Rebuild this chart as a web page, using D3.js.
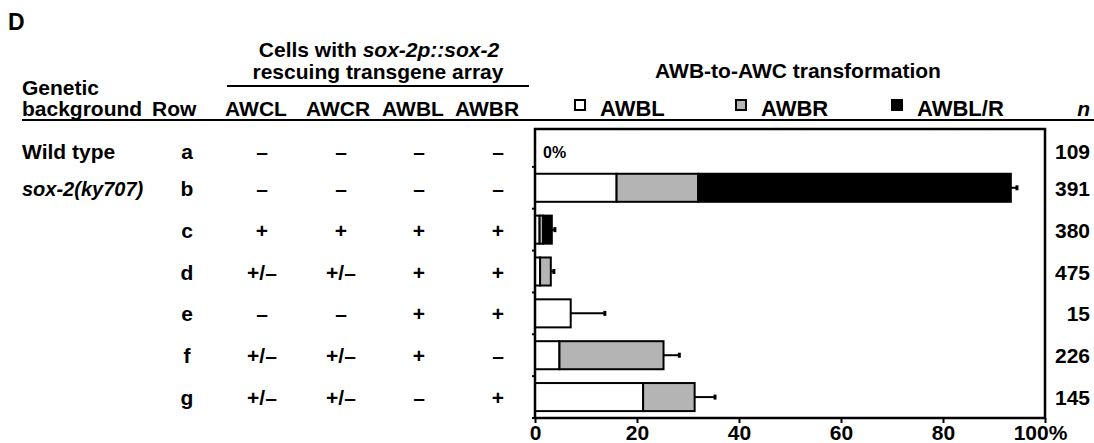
<!DOCTYPE html>
<html>
<head>
<meta charset="utf-8">
<script src="https://cdn.jsdelivr.net/npm/d3@7"></script>
<style>
  body { margin: 0; background: #fff; }
  svg text { font-family: "Liberation Sans", Arial, Helvetica, sans-serif; font-weight: bold; fill: #000; font-size: 21px; }
</style>
</head>
<body>
<svg width="1094" height="443"></svg>
<script>
// data
const rows = ["a", "b", "c", "d", "e", "f", "g"];
const backgrounds = ["Wild type", "sox-2(ky707)", "", "", "", "", ""];
const cellNames = ["AWCL", "AWCR", "AWBL", "AWBR"];
const rescueAWCL = ["–", "–", "+", "+/–", "–", "+/–", "+/–"];
const rescueAWCR = ["–", "–", "+", "+/–", "–", "+/–", "+/–"];
const rescueAWBL = ["–", "–", "+", "+", "+", "+", "–"];
const rescueAWBR = ["–", "–", "+", "+", "+", "–", "+"];
const keys = ["AWBL", "AWBR", "AWBL/R"];
const awbl = [0, 16, 0.9, 1.0, 7.0, 4.8, 21.2];
const awbr = [0, 16, 0.7, 2.1, 0, 20.4, 10.1];
const awblr = [0, 61.3, 1.7, 0, 0, 0, 0];
const sem = [0, 1.2, 0.6, 0.6, 6.7, 3.1, 4.0];
const nValues = [109, 391, 380, 475, 15, 226, 145];
const xTicks = [0, 20, 40, 60, 80, 100];

const svg = d3.select("svg");
const colours = { AWBL: "#fff", AWBR: "#b4b4b4", "AWBL/R": "#000" };

const frameTop = 129;
const x = d3.scaleLinear().domain([0, 100]).range([535, 1045]);
const y = d3.scaleBand().domain(rows).range([125, 418])
	.paddingInner(0.33).paddingOuter(0.165);
const mid = r => y(r) + y.bandwidth() / 2;
// first row sits a little lower, inside the shorter top band
const base = r => mid(r) + 8 + (r === "a" ? 5 : 0);

function txt(s, tx, ty, anchor) {
	return svg.append("text").attr("x", tx).attr("y", ty)
		.attr("text-anchor", anchor || "start").text(s);
}

// header
txt("D", 8, 30).style("font-size", "23px");
const cells = txt("Cells with ", 379, 57, "middle");
cells.append("tspan").style("font-style", "italic").text("sox-2p::sox-2");
txt("rescuing transgene array", 378, 79, "middle");
svg.append("line").attr("x1", 227).attr("x2", 529).attr("y1", 86).attr("y2", 86)
	.attr("stroke", "#000").attr("stroke-width", 2);
txt("Genetic", 22, 95);
txt("background", 22, 116);
txt("Row", 152, 116);
const headX = [256, 338, 413, 487];
cellNames.forEach((c, i) => txt(c, headX[i], 116, "middle"));
txt("AWB-to-AWC transformation", 798, 78, "middle");
svg.append("line").attr("x1", 22).attr("x2", 1094).attr("y1", 120).attr("y2", 120)
	.attr("stroke", "#000").attr("stroke-width", 2);

// legend
const legX = [575, 736, 892];
keys.forEach((k, i) => {
	svg.append("rect").attr("x", legX[i]).attr("y", 100).attr("width", 10).attr("height", 10)
		.attr("fill", colours[k]).attr("stroke", "#000").attr("stroke-width", 2);
	txt(k, legX[i] + 25, 116).style("font-size", "22px");
});
txt("n", 1090, 116, "end").style("font-style", "italic");

// table rows
rows.forEach((r, i) => {
	const t = txt(backgrounds[i], 22, base(r));
	if (i === 1) t.style("font-style", "italic").style("font-size", "20px");
	txt(r, 187, base(r), "middle");
});
const colX = [262, 341, 419, 498];
[rescueAWCL, rescueAWCR, rescueAWBL, rescueAWBR].forEach((col, j) => {
	svg.append("g").selectAll("text").data(col).join("text")
		.attr("x", colX[j]).attr("y", (d, i) => base(rows[i]))
		.attr("text-anchor", "middle").text(d => d);
});

// bars
const table = rows.map((r, i) => ({ row: r, AWBL: awbl[i], AWBR: awbr[i], "AWBL/R": awblr[i] }));
const series = d3.stack().keys(keys)(table);
svg.append("g").selectAll("g").data(series).join("g")
	.attr("fill", d => colours[d.key])
	.selectAll("rect").data(d => d.filter(s => s[1] - s[0] > 0)).join("rect")
	.attr("x", d => x(d[0])).attr("width", d => x(d[1]) - x(d[0]))
	.attr("y", d => y(d.data.row)).attr("height", y.bandwidth())
	.attr("stroke", "#000").attr("stroke-width", 2);

// error bars
const totals = rows.map((r, i) => awbl[i] + awbr[i] + awblr[i]);
const err = svg.append("g").attr("stroke", "#000").attr("stroke-width", 2);
rows.forEach((r, i) => {
	if (!sem[i]) return;
	err.append("line").attr("x1", x(totals[i])).attr("x2", x(totals[i] + sem[i]))
		.attr("y1", mid(r)).attr("y2", mid(r));
	err.append("line").attr("x1", x(totals[i] + sem[i])).attr("x2", x(totals[i] + sem[i]))
		.attr("y1", mid(r) - 2.5).attr("y2", mid(r) + 2.5).attr("stroke-width", 3);
});
txt("0%", 543, base("a") - 1).style("font-size", "16px");

// frame and axes
svg.append("rect").attr("x", x(0)).attr("y", frameTop).attr("width", x(100) - x(0)).attr("height", 418 - frameTop)
	.attr("fill", "none").attr("stroke", "#000").attr("stroke-width", 2.5);
const step = y.step();
svg.append("g").selectAll("line").data(rows).join("line")
	.attr("x1", x(0) - 3).attr("x2", x(0))
	.attr("y1", r => y(r) + y.bandwidth() + step * 0.165).attr("y2", r => y(r) + y.bandwidth() + step * 0.165)
	.attr("stroke", "#000").attr("stroke-width", 2);

const xAxis = svg.append("g").attr("transform", "translate(0,418)")
	.call(d3.axisBottom(x).tickValues(xTicks).tickSize(5).tickPadding(2)
		.tickFormat(d => d === 100 ? "100%" : d));
xAxis.select(".domain").remove();
xAxis.selectAll("line").attr("stroke-width", 2);
xAxis.attr("font-size", null).attr("font-family", null);
xAxis.selectAll("text").filter(d => d === 100).attr("dx", -5);

// n column
rows.forEach((r, i) => txt(nValues[i], 1090, base(r), "end"));
</script>
</body>
</html>
